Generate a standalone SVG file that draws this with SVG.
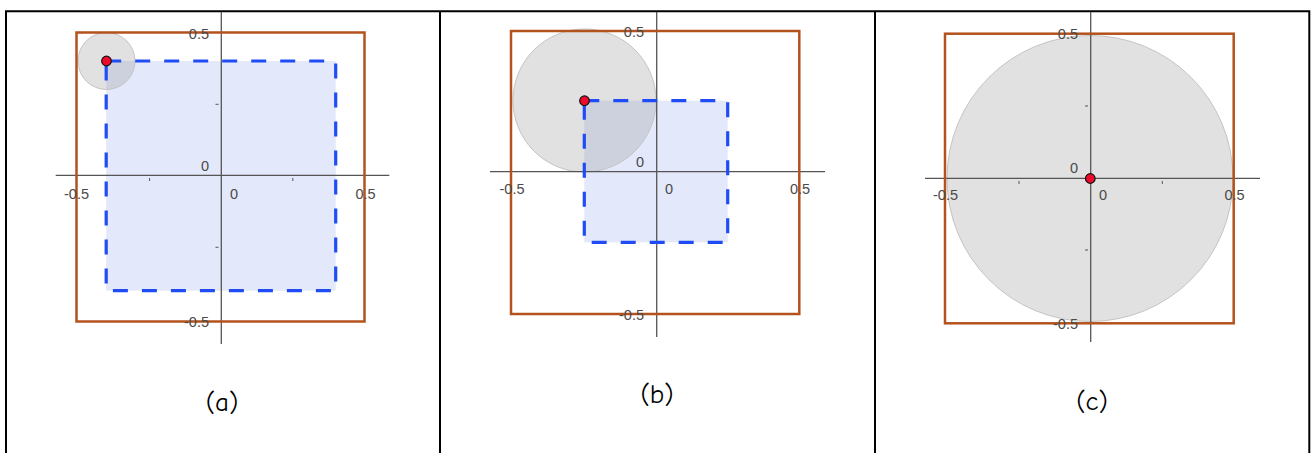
<svg xmlns="http://www.w3.org/2000/svg" width="1311" height="453" viewBox="0 0 1311 453">
<style>
.frame{fill:none;stroke:#000;stroke-width:2}
.outer{fill:none;stroke:#b4521e;stroke-width:2.5}
.inner{fill:#e3e8fb;stroke:none}
.dash{fill:none;stroke:#1f4cf5;stroke-width:3.2;stroke-dasharray:15 14}
.disk{fill:#9a9a9a;fill-opacity:0.3;stroke:#c4c4c4;stroke-width:1}
.axis{stroke:#555;stroke-width:1.3;fill:none}
.tick{stroke:#555;stroke-width:1;fill:none}
.pt{fill:#ee0a2a;stroke:#111;stroke-width:1.2}
.num{font-family:"Liberation Sans",Arial,sans-serif;font-size:14.5px;fill:#4a4a4a}
.cap{font-family:"Comic Neue","Open Sans","DejaVu Sans",sans-serif;font-size:27px;fill:#000;text-anchor:middle}
</style>
<rect width="1311" height="453" fill="#fff"/>
<g id="table">
<path class="frame" d="M6,460 V11.3 H1309.3 V460 M440,11.3 V460 M875,11.3 V460"/>
</g>
<g id="panel-a">
<rect class="inner" x="106.2" y="61" width="229.5" height="229.7"/>
<circle class="disk" cx="106.5" cy="61" r="28.5"/>
<line class="axis" x1="221.3" y1="12" x2="221.3" y2="344"/>
<line class="axis" x1="55.7" y1="175.3" x2="389.3" y2="175.3"/>
<path class="tick" d="M149.6,178 V181 M292.8,178 V181 M215.5,104.3 H218.5 M215.5,247.3 H218.5"/>
<rect class="dash" x="106.2" y="61" width="229.5" height="229.7"/>
<rect class="outer" x="76.5" y="32.5" width="288" height="289"/>
<circle class="pt" cx="106.5" cy="61" r="4.8"/>
<text class="num" x="209" y="38.5" text-anchor="end">0.5</text>
<text class="num" x="209" y="327" text-anchor="end">-0.5</text>
<text class="num" x="209" y="171" text-anchor="end">0</text>
<text class="num" x="76.5" y="198.5" text-anchor="middle">-0.5</text>
<text class="num" x="230" y="198.5">0</text>
<text class="num" x="365.5" y="198.5" text-anchor="middle">0.5</text>
<text class="cap" x="222" y="411">(a)</text>
</g>
<g id="panel-b">
<rect class="inner" x="584.3" y="100.7" width="143.4" height="141.6"/>
<circle class="disk" cx="584.5" cy="100.5" r="71.5"/>
<line class="axis" x1="656.7" y1="12" x2="656.7" y2="337"/>
<line class="axis" x1="490" y1="171.7" x2="825" y2="171.7"/>
<rect class="dash" x="584.3" y="100.7" width="143.4" height="141.6"/>
<rect class="outer" x="511" y="31" width="288.3" height="283"/>
<circle class="pt" cx="584.5" cy="100.7" r="4.8"/>
<text class="num" x="644" y="37" text-anchor="end">0.5</text>
<text class="num" x="644" y="320" text-anchor="end">-0.5</text>
<text class="num" x="644" y="167" text-anchor="end">0</text>
<text class="num" x="512" y="194" text-anchor="middle">-0.5</text>
<text class="num" x="665" y="194">0</text>
<text class="num" x="800" y="194" text-anchor="middle">0.5</text>
<text class="cap" x="657" y="403">(b)</text>
</g>
<g id="panel-c">
<circle class="disk" cx="1090" cy="178.5" r="143"/>
<line class="axis" x1="1090.7" y1="12" x2="1090.7" y2="342"/>
<line class="axis" x1="925" y1="178.3" x2="1260" y2="178.3"/>
<path class="tick" d="M1019,181 V184 M1162.3,181 V184 M1085,106 H1088 M1085,250 H1088"/>
<rect class="outer" x="945" y="33.7" width="288.7" height="289.6"/>
<circle class="pt" cx="1090.3" cy="178.5" r="4.8"/>
<text class="num" x="1078" y="39" text-anchor="end">0.5</text>
<text class="num" x="1078" y="329" text-anchor="end">-0.5</text>
<text class="num" x="1078" y="173" text-anchor="end">0</text>
<text class="num" x="945.5" y="200" text-anchor="middle">-0.5</text>
<text class="num" x="1099" y="200">0</text>
<text class="num" x="1234.5" y="200" text-anchor="middle">0.5</text>
<text class="cap" x="1092" y="410">(c)</text>
</g>
</svg>
